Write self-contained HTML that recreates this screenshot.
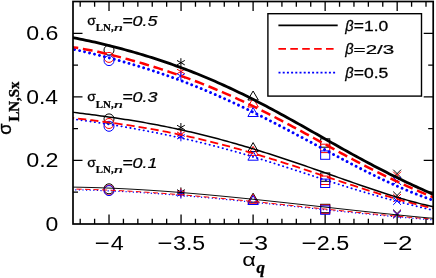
<!DOCTYPE html><html><head><meta charset="utf-8"><style>html,body{margin:0;padding:0;background:#fff}svg{display:block;will-change:transform}svg{font-family:"Liberation Sans",sans-serif}text{fill:#000}</style></head><body>
<svg width="436" height="278" viewBox="0 0 436 278">
<rect width="436" height="278" fill="#fff"/>
<defs><clipPath id="c"><rect x="73.0" y="1.5" width="360.2" height="222.5"/></clipPath></defs>
<g fill="none" stroke-width="1">
<circle cx="109.0" cy="50.1" r="5" stroke="#000"/>
<circle cx="109.0" cy="57.4" r="5" stroke="#ff0000"/>
<circle cx="109.0" cy="60.6" r="5" stroke="#0000ff"/>
<circle cx="109.0" cy="118.9" r="5" stroke="#000"/>
<circle cx="109.0" cy="123.5" r="5" stroke="#ff0000"/>
<circle cx="109.0" cy="126.3" r="5" stroke="#0000ff"/>
<circle cx="109.0" cy="188.8" r="5" stroke="#000"/>
<circle cx="109.0" cy="190.1" r="5" stroke="#ff0000"/>
<circle cx="109.0" cy="190.6" r="5" stroke="#0000ff"/>
<path d="M180.90,58.20 L180.90,67.20 M177.00,60.45 L184.80,64.95 M184.80,60.45 L177.00,64.95 " stroke="#000"/>
<path d="M180.90,67.00 L180.90,76.00 M177.00,69.25 L184.80,73.75 M184.80,69.25 L177.00,73.75 " stroke="#ff0000"/>
<path d="M180.90,71.50 L180.90,80.50 M177.00,73.75 L184.80,78.25 M184.80,73.75 L177.00,78.25 " stroke="#0000ff"/>
<path d="M180.90,123.00 L180.90,132.00 M177.00,125.25 L184.80,129.75 M184.80,125.25 L177.00,129.75 " stroke="#000"/>
<path d="M180.90,129.70 L180.90,138.70 M177.00,131.95 L184.80,136.45 M184.80,131.95 L177.00,136.45 " stroke="#ff0000"/>
<path d="M180.90,132.30 L180.90,141.30 M177.00,134.55 L184.80,139.05 M184.80,134.55 L177.00,139.05 " stroke="#0000ff"/>
<path d="M180.90,187.40 L180.90,196.40 M177.00,189.65 L184.80,194.15 M184.80,189.65 L177.00,194.15 " stroke="#000"/>
<path d="M180.90,188.50 L180.90,197.50 M177.00,190.75 L184.80,195.25 M184.80,190.75 L177.00,195.25 " stroke="#ff0000"/>
<path d="M180.90,189.60 L180.90,198.60 M177.00,191.85 L184.80,196.35 M184.80,191.85 L177.00,196.35 " stroke="#0000ff"/>
<path d="M253.1,91.0 L258.3,100.0 L247.9,100.0 Z" stroke="#000"/>
<path d="M253.1,98.0 L258.3,107.0 L247.9,107.0 Z" stroke="#ff0000"/>
<path d="M253.1,107.5 L258.3,116.5 L247.9,116.5 Z" stroke="#0000ff"/>
<path d="M253.1,142.6 L258.3,151.6 L247.9,151.6 Z" stroke="#000"/>
<path d="M253.1,146.4 L258.3,155.4 L247.9,155.4 Z" stroke="#ff0000"/>
<path d="M253.1,151.2 L258.3,160.2 L247.9,160.2 Z" stroke="#0000ff"/>
<path d="M253.1,193.2 L258.3,202.2 L247.9,202.2 Z" stroke="#000"/>
<path d="M253.1,194.3 L258.3,203.3 L247.9,203.3 Z" stroke="#ff0000"/>
<path d="M253.1,195.5 L258.3,204.5 L247.9,204.5 Z" stroke="#0000ff"/>
<rect x="320.65" y="138.8" width="9.1" height="8.4" stroke="#000"/>
<rect x="320.65" y="144.2" width="9.1" height="8.4" stroke="#ff0000"/>
<rect x="320.65" y="150.9" width="9.1" height="8.4" stroke="#0000ff"/>
<rect x="320.65" y="172.9" width="9.1" height="8.4" stroke="#000"/>
<rect x="320.65" y="176.1" width="9.1" height="8.4" stroke="#ff0000"/>
<rect x="320.65" y="179.1" width="9.1" height="8.4" stroke="#0000ff"/>
<rect x="320.65" y="204.3" width="9.1" height="8.4" stroke="#000"/>
<rect x="320.65" y="205.0" width="9.1" height="8.4" stroke="#ff0000"/>
<rect x="320.65" y="205.9" width="9.1" height="8.4" stroke="#0000ff"/>
<path d="M393.2,169.7 L401.0,177.5 M393.2,177.5 L401.0,169.7" stroke="#000"/>
<path d="M393.2,171.7 L401.0,179.5 M393.2,179.5 L401.0,171.7" stroke="#ff0000"/>
<path d="M393.2,177.1 L401.0,184.9 M393.2,184.9 L401.0,177.1" stroke="#0000ff"/>
<path d="M393.2,191.6 L401.0,199.4 M393.2,199.4 L401.0,191.6" stroke="#000"/>
<path d="M393.2,194.0 L401.0,201.8 M393.2,201.8 L401.0,194.0" stroke="#ff0000"/>
<path d="M393.2,197.1 L401.0,204.9 M393.2,204.9 L401.0,197.1" stroke="#0000ff"/>
<path d="M393.2,209.6 L401.0,217.4 M393.2,217.4 L401.0,209.6" stroke="#000"/>
<path d="M393.2,210.3 L401.0,218.1 M393.2,218.1 L401.0,210.3" stroke="#ff0000"/>
<path d="M393.2,210.6 L401.0,218.4 M393.2,218.4 L401.0,210.6" stroke="#0000ff"/>
</g>
<g clip-path="url(#c)" fill="none">
<path d="M68.00,48.05 L71.00,48.71 L74.00,49.37 L77.00,50.05 L80.00,50.73 L83.00,51.42 L86.00,52.12 L89.00,52.84 L92.00,53.56 L95.00,54.29 L98.00,55.03 L101.00,55.79 L104.00,56.55 L107.00,57.33 L110.00,58.12 L113.00,58.92 L116.00,59.73 L119.00,60.55 L122.00,61.39 L125.00,62.24 L128.00,63.10 L131.00,63.98 L134.00,64.86 L137.00,65.77 L140.00,66.68 L143.00,67.61 L146.00,68.55 L149.00,69.51 L152.00,70.49 L155.00,71.47 L158.00,72.47 L161.00,73.49 L164.00,74.52 L167.00,75.57 L170.00,76.63 L173.00,77.71 L176.00,78.81 L179.00,79.91 L182.00,81.04 L185.00,82.18 L188.00,83.34 L191.00,84.51 L194.00,85.70 L197.00,86.90 L200.00,88.12 L203.00,89.36 L206.00,90.61 L209.00,91.87 L212.00,93.15 L215.00,94.45 L218.00,95.76 L221.00,97.09 L224.00,98.43 L227.00,99.79 L230.00,101.16 L233.00,102.55 L236.00,103.94 L239.00,105.36 L242.00,106.78 L245.00,108.22 L248.00,109.68 L251.00,111.14 L254.00,112.62 L257.00,114.10 L260.00,115.60 L263.00,117.11 L266.00,118.64 L269.00,120.17 L272.00,121.71 L275.00,123.26 L278.00,124.81 L281.00,126.38 L284.00,127.95 L287.00,129.53 L290.00,131.12 L293.00,132.71 L296.00,134.31 L299.00,135.91 L302.00,137.51 L305.00,139.12 L308.00,140.73 L311.00,142.35 L314.00,143.96 L317.00,145.57 L320.00,147.19 L323.00,148.80 L326.00,150.41 L329.00,152.02 L332.00,153.63 L335.00,155.23 L338.00,156.82 L341.00,158.41 L344.00,160.00 L347.00,161.58 L350.00,163.14 L353.00,164.71 L356.00,166.26 L359.00,167.80 L362.00,169.33 L365.00,170.84 L368.00,172.35 L371.00,173.84 L374.00,175.31 L377.00,176.77 L380.00,178.22 L383.00,179.65 L386.00,181.06 L389.00,182.45 L392.00,183.82 L395.00,185.17 L398.00,186.50 L401.00,187.81 L404.00,189.10 L407.00,190.36 L410.00,191.60 L413.00,192.81 L416.00,194.00 L419.00,195.17 L422.00,196.30 L425.00,197.41 L428.00,198.50 L431.00,199.55 L434.00,200.57 L437.00,201.57" stroke="#0000ff" stroke-width="2.9" stroke-dasharray="0.01 5.09" stroke-dashoffset="3.4" stroke-linecap="round"/>
<path d="M68.00,46.56 L71.00,46.95 L74.00,47.38 L77.00,47.84 L80.00,48.33 L83.00,48.86 L86.00,49.40 L89.00,49.98 L92.00,50.58 L95.00,51.20 L98.00,51.84 L101.00,52.51 L104.00,53.19 L107.00,53.89 L110.00,54.61 L113.00,55.35 L116.00,56.10 L119.00,56.87 L122.00,57.65 L125.00,58.45 L128.00,59.26 L131.00,60.09 L134.00,60.93 L137.00,61.78 L140.00,62.65 L143.00,63.53 L146.00,64.43 L149.00,65.34 L152.00,66.26 L155.00,67.19 L158.00,68.14 L161.00,69.10 L164.00,70.08 L167.00,71.07 L170.00,72.07 L173.00,73.09 L176.00,74.13 L179.00,75.18 L182.00,76.24 L185.00,77.32 L188.00,78.41 L191.00,79.53 L194.00,80.65 L197.00,81.79 L200.00,82.95 L203.00,84.13 L206.00,85.32 L209.00,86.53 L212.00,87.75 L215.00,89.00 L218.00,90.26 L221.00,91.53 L224.00,92.83 L227.00,94.14 L230.00,95.46 L233.00,96.81 L236.00,98.17 L239.00,99.54 L242.00,100.94 L245.00,102.34 L248.00,103.77 L251.00,105.21 L254.00,106.67 L257.00,108.14 L260.00,109.62 L263.00,111.12 L266.00,112.63 L269.00,114.16 L272.00,115.70 L275.00,117.25 L278.00,118.82 L281.00,120.39 L284.00,121.97 L287.00,123.57 L290.00,125.17 L293.00,126.78 L296.00,128.40 L299.00,130.03 L302.00,131.66 L305.00,133.30 L308.00,134.94 L311.00,136.58 L314.00,138.23 L317.00,139.88 L320.00,141.53 L323.00,143.18 L326.00,144.83 L329.00,146.48 L332.00,148.13 L335.00,149.77 L338.00,151.40 L341.00,153.04 L344.00,154.66 L347.00,156.28 L350.00,157.89 L353.00,159.49 L356.00,161.08 L359.00,162.66 L362.00,164.23 L365.00,165.79 L368.00,167.34 L371.00,168.87 L374.00,170.39 L377.00,171.89 L380.00,173.38 L383.00,174.86 L386.00,176.31 L389.00,177.76 L392.00,179.18 L395.00,180.59 L398.00,181.99 L401.00,183.36 L404.00,184.72 L407.00,186.07 L410.00,187.39 L413.00,188.71 L416.00,190.01 L419.00,191.29 L422.00,192.56 L425.00,193.82 L428.00,195.07 L431.00,196.30 L434.00,197.53 L437.00,198.75" stroke="#ff0000" stroke-width="2.5" stroke-dasharray="9.8 4.78" stroke-dashoffset="-0.5"/>
<path d="M68.00,36.82 L71.00,37.34 L74.00,37.89 L77.00,38.46 L80.00,39.05 L83.00,39.65 L86.00,40.28 L89.00,40.91 L92.00,41.57 L95.00,42.24 L98.00,42.93 L101.00,43.63 L104.00,44.34 L107.00,45.07 L110.00,45.81 L113.00,46.57 L116.00,47.34 L119.00,48.13 L122.00,48.93 L125.00,49.74 L128.00,50.57 L131.00,51.41 L134.00,52.26 L137.00,53.13 L140.00,54.01 L143.00,54.91 L146.00,55.83 L149.00,56.75 L152.00,57.70 L155.00,58.65 L158.00,59.63 L161.00,60.62 L164.00,61.62 L167.00,62.64 L170.00,63.68 L173.00,64.74 L176.00,65.81 L179.00,66.90 L182.00,68.00 L185.00,69.13 L188.00,70.27 L191.00,71.43 L194.00,72.60 L197.00,73.80 L200.00,75.01 L203.00,76.24 L206.00,77.49 L209.00,78.75 L212.00,80.04 L215.00,81.34 L218.00,82.66 L221.00,84.00 L224.00,85.36 L227.00,86.73 L230.00,88.12 L233.00,89.53 L236.00,90.96 L239.00,92.40 L242.00,93.86 L245.00,95.33 L248.00,96.82 L251.00,98.33 L254.00,99.85 L257.00,101.39 L260.00,102.94 L263.00,104.51 L266.00,106.08 L269.00,107.68 L272.00,109.28 L275.00,110.89 L278.00,112.52 L281.00,114.15 L284.00,115.80 L287.00,117.46 L290.00,119.12 L293.00,120.79 L296.00,122.47 L299.00,124.15 L302.00,125.84 L305.00,127.53 L308.00,129.23 L311.00,130.93 L314.00,132.64 L317.00,134.34 L320.00,136.05 L323.00,137.75 L326.00,139.45 L329.00,141.16 L332.00,142.86 L335.00,144.55 L338.00,146.24 L341.00,147.93 L344.00,149.61 L347.00,151.28 L350.00,152.95 L353.00,154.61 L356.00,156.25 L359.00,157.89 L362.00,159.52 L365.00,161.14 L368.00,162.75 L371.00,164.34 L374.00,165.92 L377.00,167.49 L380.00,169.05 L383.00,170.59 L386.00,172.12 L389.00,173.63 L392.00,175.13 L395.00,176.62 L398.00,178.09 L401.00,179.54 L404.00,180.98 L407.00,182.41 L410.00,183.82 L413.00,185.22 L416.00,186.61 L419.00,187.98 L422.00,189.34 L425.00,190.69 L428.00,192.03 L431.00,193.36 L434.00,194.69 L437.00,196.00" stroke="#000" stroke-width="2.8"/>
<path d="M68.00,118.49 L71.00,118.85 L74.00,119.23 L77.00,119.61 L80.00,120.01 L83.00,120.42 L86.00,120.84 L89.00,121.27 L92.00,121.71 L95.00,122.16 L98.00,122.61 L101.00,123.08 L104.00,123.55 L107.00,124.02 L110.00,124.51 L113.00,125.00 L116.00,125.49 L119.00,126.00 L122.00,126.51 L125.00,127.02 L128.00,127.55 L131.00,128.07 L134.00,128.61 L137.00,129.15 L140.00,129.70 L143.00,130.26 L146.00,130.82 L149.00,131.40 L152.00,131.97 L155.00,132.56 L158.00,133.15 L161.00,133.76 L164.00,134.37 L167.00,134.99 L170.00,135.61 L173.00,136.25 L176.00,136.89 L179.00,137.55 L182.00,138.21 L185.00,138.89 L188.00,139.57 L191.00,140.26 L194.00,140.96 L197.00,141.67 L200.00,142.40 L203.00,143.13 L206.00,143.87 L209.00,144.62 L212.00,145.39 L215.00,146.16 L218.00,146.94 L221.00,147.74 L224.00,148.54 L227.00,149.36 L230.00,150.18 L233.00,151.01 L236.00,151.86 L239.00,152.71 L242.00,153.58 L245.00,154.45 L248.00,155.33 L251.00,156.22 L254.00,157.12 L257.00,158.02 L260.00,158.94 L263.00,159.86 L266.00,160.79 L269.00,161.73 L272.00,162.67 L275.00,163.62 L278.00,164.57 L281.00,165.53 L284.00,166.50 L287.00,167.47 L290.00,168.44 L293.00,169.41 L296.00,170.39 L299.00,171.37 L302.00,172.36 L305.00,173.34 L308.00,174.32 L311.00,175.31 L314.00,176.29 L317.00,177.27 L320.00,178.25 L323.00,179.23 L326.00,180.21 L329.00,181.18 L332.00,182.15 L335.00,183.11 L338.00,184.07 L341.00,185.03 L344.00,185.97 L347.00,186.91 L350.00,187.85 L353.00,188.77 L356.00,189.69 L359.00,190.60 L362.00,191.51 L365.00,192.40 L368.00,193.28 L371.00,194.16 L374.00,195.02 L377.00,195.88 L380.00,196.72 L383.00,197.56 L386.00,198.38 L389.00,199.20 L392.00,200.00 L395.00,200.80 L398.00,201.58 L401.00,202.36 L404.00,203.13 L407.00,203.89 L410.00,204.64 L413.00,205.38 L416.00,206.12 L419.00,206.85 L422.00,207.58 L425.00,208.30 L428.00,209.02 L431.00,209.74 L434.00,210.46 L437.00,211.18" stroke="#0000ff" stroke-width="1.8" stroke-dasharray="0.3 4.2" stroke-dashoffset="0" stroke-linecap="round"/>
<path d="M68.00,117.40 L71.00,117.75 L74.00,118.09 L77.00,118.44 L80.00,118.79 L83.00,119.15 L86.00,119.51 L89.00,119.87 L92.00,120.24 L95.00,120.62 L98.00,121.00 L101.00,121.38 L104.00,121.77 L107.00,122.17 L110.00,122.58 L113.00,122.99 L116.00,123.41 L119.00,123.84 L122.00,124.28 L125.00,124.72 L128.00,125.18 L131.00,125.64 L134.00,126.11 L137.00,126.59 L140.00,127.08 L143.00,127.58 L146.00,128.09 L149.00,128.62 L152.00,129.15 L155.00,129.69 L158.00,130.24 L161.00,130.80 L164.00,131.37 L167.00,131.96 L170.00,132.55 L173.00,133.16 L176.00,133.77 L179.00,134.40 L182.00,135.04 L185.00,135.69 L188.00,136.35 L191.00,137.02 L194.00,137.70 L197.00,138.40 L200.00,139.10 L203.00,139.82 L206.00,140.54 L209.00,141.28 L212.00,142.03 L215.00,142.79 L218.00,143.56 L221.00,144.34 L224.00,145.13 L227.00,145.93 L230.00,146.74 L233.00,147.56 L236.00,148.39 L239.00,149.23 L242.00,150.08 L245.00,150.94 L248.00,151.80 L251.00,152.68 L254.00,153.56 L257.00,154.46 L260.00,155.36 L263.00,156.27 L266.00,157.18 L269.00,158.11 L272.00,159.04 L275.00,159.97 L278.00,160.91 L281.00,161.86 L284.00,162.82 L287.00,163.78 L290.00,164.74 L293.00,165.71 L296.00,166.69 L299.00,167.67 L302.00,168.65 L305.00,169.63 L308.00,170.62 L311.00,171.61 L314.00,172.60 L317.00,173.60 L320.00,174.59 L323.00,175.59 L326.00,176.58 L329.00,177.58 L332.00,178.57 L335.00,179.57 L338.00,180.56 L341.00,181.55 L344.00,182.54 L347.00,183.52 L350.00,184.51 L353.00,185.48 L356.00,186.46 L359.00,187.43 L362.00,188.39 L365.00,189.35 L368.00,190.30 L371.00,191.24 L374.00,192.18 L377.00,193.11 L380.00,194.03 L383.00,194.94 L386.00,195.84 L389.00,196.73 L392.00,197.61 L395.00,198.48 L398.00,199.34 L401.00,200.18 L404.00,201.01 L407.00,201.83 L410.00,202.64 L413.00,203.43 L416.00,204.20 L419.00,204.96 L422.00,205.70 L425.00,206.42 L428.00,207.13 L431.00,207.82 L434.00,208.49 L437.00,209.14" stroke="#ff0000" stroke-width="1.8" stroke-dasharray="8.2 4.0" stroke-dashoffset="2"/>
<path d="M68.00,111.61 L71.00,112.00 L74.00,112.38 L77.00,112.77 L80.00,113.15 L83.00,113.53 L86.00,113.92 L89.00,114.31 L92.00,114.70 L95.00,115.10 L98.00,115.50 L101.00,115.91 L104.00,116.32 L107.00,116.73 L110.00,117.16 L113.00,117.59 L116.00,118.03 L119.00,118.47 L122.00,118.93 L125.00,119.39 L128.00,119.86 L131.00,120.34 L134.00,120.83 L137.00,121.32 L140.00,121.83 L143.00,122.35 L146.00,122.88 L149.00,123.42 L152.00,123.97 L155.00,124.53 L158.00,125.10 L161.00,125.68 L164.00,126.27 L167.00,126.87 L170.00,127.49 L173.00,128.11 L176.00,128.75 L179.00,129.40 L182.00,130.06 L185.00,130.73 L188.00,131.41 L191.00,132.10 L194.00,132.80 L197.00,133.52 L200.00,134.25 L203.00,134.98 L206.00,135.73 L209.00,136.49 L212.00,137.26 L215.00,138.04 L218.00,138.84 L221.00,139.64 L224.00,140.45 L227.00,141.28 L230.00,142.11 L233.00,142.96 L236.00,143.81 L239.00,144.67 L242.00,145.55 L245.00,146.43 L248.00,147.33 L251.00,148.23 L254.00,149.14 L257.00,150.06 L260.00,150.99 L263.00,151.93 L266.00,152.87 L269.00,153.83 L272.00,154.79 L275.00,155.76 L278.00,156.73 L281.00,157.72 L284.00,158.71 L287.00,159.71 L290.00,160.71 L293.00,161.72 L296.00,162.73 L299.00,163.76 L302.00,164.78 L305.00,165.81 L308.00,166.85 L311.00,167.88 L314.00,168.93 L317.00,169.97 L320.00,171.02 L323.00,172.07 L326.00,173.12 L329.00,174.18 L332.00,175.23 L335.00,176.29 L338.00,177.34 L341.00,178.40 L344.00,179.45 L347.00,180.50 L350.00,181.55 L353.00,182.60 L356.00,183.65 L359.00,184.69 L362.00,185.72 L365.00,186.75 L368.00,187.77 L371.00,188.79 L374.00,189.80 L377.00,190.80 L380.00,191.79 L383.00,192.77 L386.00,193.74 L389.00,194.70 L392.00,195.64 L395.00,196.57 L398.00,197.48 L401.00,198.38 L404.00,199.26 L407.00,200.13 L410.00,200.97 L413.00,201.79 L416.00,202.59 L419.00,203.37 L422.00,204.12 L425.00,204.84 L428.00,205.54 L431.00,206.21 L434.00,206.84 L437.00,207.45" stroke="#000" stroke-width="1.5"/>
<path d="M68.00,189.68 L71.00,189.72 L74.00,189.77 L77.00,189.83 L80.00,189.90 L83.00,189.97 L86.00,190.05 L89.00,190.13 L92.00,190.23 L95.00,190.32 L98.00,190.43 L101.00,190.54 L104.00,190.66 L107.00,190.78 L110.00,190.91 L113.00,191.04 L116.00,191.18 L119.00,191.33 L122.00,191.48 L125.00,191.64 L128.00,191.80 L131.00,191.97 L134.00,192.14 L137.00,192.32 L140.00,192.51 L143.00,192.70 L146.00,192.89 L149.00,193.09 L152.00,193.29 L155.00,193.50 L158.00,193.71 L161.00,193.92 L164.00,194.14 L167.00,194.37 L170.00,194.60 L173.00,194.83 L176.00,195.07 L179.00,195.31 L182.00,195.55 L185.00,195.80 L188.00,196.05 L191.00,196.30 L194.00,196.56 L197.00,196.82 L200.00,197.09 L203.00,197.36 L206.00,197.63 L209.00,197.90 L212.00,198.18 L215.00,198.46 L218.00,198.74 L221.00,199.02 L224.00,199.31 L227.00,199.60 L230.00,199.89 L233.00,200.18 L236.00,200.48 L239.00,200.77 L242.00,201.07 L245.00,201.37 L248.00,201.68 L251.00,201.98 L254.00,202.29 L257.00,202.60 L260.00,202.90 L263.00,203.21 L266.00,203.52 L269.00,203.84 L272.00,204.15 L275.00,204.46 L278.00,204.78 L281.00,205.09 L284.00,205.41 L287.00,205.73 L290.00,206.04 L293.00,206.36 L296.00,206.68 L299.00,206.99 L302.00,207.31 L305.00,207.63 L308.00,207.95 L311.00,208.26 L314.00,208.58 L317.00,208.90 L320.00,209.21 L323.00,209.53 L326.00,209.84 L329.00,210.16 L332.00,210.47 L335.00,210.78 L338.00,211.09 L341.00,211.40 L344.00,211.71 L347.00,212.02 L350.00,212.32 L353.00,212.63 L356.00,212.93 L359.00,213.23 L362.00,213.53 L365.00,213.82 L368.00,214.12 L371.00,214.41 L374.00,214.70 L377.00,214.99 L380.00,215.28 L383.00,215.56 L386.00,215.84 L389.00,216.12 L392.00,216.40 L395.00,216.67 L398.00,216.94 L401.00,217.21 L404.00,217.47 L407.00,217.73 L410.00,217.99 L413.00,218.24 L416.00,218.49 L419.00,218.74 L422.00,218.98 L425.00,219.22 L428.00,219.46 L431.00,219.69 L434.00,219.91 L437.00,220.14" stroke="#0000ff" stroke-width="1.2" stroke-dasharray="1.2 2.4" stroke-dashoffset="0"/>
<path d="M68.00,188.98 L71.00,189.02 L74.00,189.07 L77.00,189.13 L80.00,189.20 L83.00,189.27 L86.00,189.35 L89.00,189.43 L92.00,189.53 L95.00,189.62 L98.00,189.73 L101.00,189.84 L104.00,189.96 L107.00,190.08 L110.00,190.21 L113.00,190.34 L116.00,190.48 L119.00,190.63 L122.00,190.78 L125.00,190.94 L128.00,191.10 L131.00,191.27 L134.00,191.44 L137.00,191.62 L140.00,191.81 L143.00,192.00 L146.00,192.19 L149.00,192.39 L152.00,192.59 L155.00,192.80 L158.00,193.01 L161.00,193.22 L164.00,193.44 L167.00,193.67 L170.00,193.90 L173.00,194.13 L176.00,194.37 L179.00,194.61 L182.00,194.85 L185.00,195.10 L188.00,195.35 L191.00,195.60 L194.00,195.86 L197.00,196.12 L200.00,196.39 L203.00,196.66 L206.00,196.93 L209.00,197.20 L212.00,197.48 L215.00,197.76 L218.00,198.04 L221.00,198.32 L224.00,198.61 L227.00,198.90 L230.00,199.19 L233.00,199.48 L236.00,199.78 L239.00,200.07 L242.00,200.37 L245.00,200.67 L248.00,200.98 L251.00,201.28 L254.00,201.59 L257.00,201.90 L260.00,202.20 L263.00,202.51 L266.00,202.82 L269.00,203.14 L272.00,203.45 L275.00,203.76 L278.00,204.08 L281.00,204.39 L284.00,204.71 L287.00,205.03 L290.00,205.34 L293.00,205.66 L296.00,205.98 L299.00,206.29 L302.00,206.61 L305.00,206.93 L308.00,207.25 L311.00,207.56 L314.00,207.88 L317.00,208.20 L320.00,208.51 L323.00,208.83 L326.00,209.14 L329.00,209.46 L332.00,209.77 L335.00,210.08 L338.00,210.39 L341.00,210.70 L344.00,211.01 L347.00,211.32 L350.00,211.62 L353.00,211.93 L356.00,212.23 L359.00,212.53 L362.00,212.83 L365.00,213.12 L368.00,213.42 L371.00,213.71 L374.00,214.00 L377.00,214.29 L380.00,214.58 L383.00,214.86 L386.00,215.14 L389.00,215.42 L392.00,215.70 L395.00,215.97 L398.00,216.24 L401.00,216.51 L404.00,216.77 L407.00,217.03 L410.00,217.29 L413.00,217.54 L416.00,217.79 L419.00,218.04 L422.00,218.28 L425.00,218.52 L428.00,218.76 L431.00,218.99 L434.00,219.21 L437.00,219.44" stroke="#ff0000" stroke-width="1.0" stroke-dasharray="5.2 3.3" stroke-dashoffset="0"/>
<path d="M68.00,187.06 L71.00,187.09 L74.00,187.13 L77.00,187.18 L80.00,187.23 L83.00,187.30 L86.00,187.36 L89.00,187.44 L92.00,187.52 L95.00,187.61 L98.00,187.70 L101.00,187.80 L104.00,187.91 L107.00,188.02 L110.00,188.14 L113.00,188.26 L116.00,188.39 L119.00,188.53 L122.00,188.67 L125.00,188.82 L128.00,188.97 L131.00,189.13 L134.00,189.30 L137.00,189.47 L140.00,189.64 L143.00,189.82 L146.00,190.01 L149.00,190.20 L152.00,190.40 L155.00,190.60 L158.00,190.80 L161.00,191.01 L164.00,191.23 L167.00,191.45 L170.00,191.67 L173.00,191.90 L176.00,192.13 L179.00,192.36 L182.00,192.60 L185.00,192.85 L188.00,193.10 L191.00,193.35 L194.00,193.60 L197.00,193.86 L200.00,194.13 L203.00,194.39 L206.00,194.66 L209.00,194.93 L212.00,195.21 L215.00,195.49 L218.00,195.77 L221.00,196.06 L224.00,196.34 L227.00,196.63 L230.00,196.93 L233.00,197.22 L236.00,197.52 L239.00,197.82 L242.00,198.13 L245.00,198.43 L248.00,198.74 L251.00,199.05 L254.00,199.36 L257.00,199.67 L260.00,199.99 L263.00,200.30 L266.00,200.62 L269.00,200.94 L272.00,201.27 L275.00,201.59 L278.00,201.91 L281.00,202.24 L284.00,202.56 L287.00,202.89 L290.00,203.22 L293.00,203.55 L296.00,203.88 L299.00,204.21 L302.00,204.54 L305.00,204.88 L308.00,205.21 L311.00,205.54 L314.00,205.87 L317.00,206.21 L320.00,206.54 L323.00,206.87 L326.00,207.21 L329.00,207.54 L332.00,207.87 L335.00,208.20 L338.00,208.54 L341.00,208.87 L344.00,209.20 L347.00,209.53 L350.00,209.86 L353.00,210.19 L356.00,210.52 L359.00,210.84 L362.00,211.17 L365.00,211.49 L368.00,211.81 L371.00,212.14 L374.00,212.46 L377.00,212.77 L380.00,213.09 L383.00,213.41 L386.00,213.72 L389.00,214.03 L392.00,214.34 L395.00,214.65 L398.00,214.95 L401.00,215.26 L404.00,215.56 L407.00,215.85 L410.00,216.15 L413.00,216.44 L416.00,216.73 L419.00,217.02 L422.00,217.31 L425.00,217.59 L428.00,217.87 L431.00,218.14 L434.00,218.41 L437.00,218.68" stroke="#000" stroke-width="0.95"/>
</g>
<rect x="73.0" y="1.5" width="360.2" height="222.5" fill="none" stroke="#000" stroke-width="1.7"/>
<path d="M80.20,1.50 v5.2 M80.20,224.00 v-5.2 M94.61,1.50 v5.2 M94.61,224.00 v-5.2 M109.02,1.50 v9.5 M109.02,224.00 v-9.5 M123.43,1.50 v5.2 M123.43,224.00 v-5.2 M137.84,1.50 v5.2 M137.84,224.00 v-5.2 M152.24,1.50 v5.2 M152.24,224.00 v-5.2 M166.65,1.50 v5.2 M166.65,224.00 v-5.2 M181.06,1.50 v9.5 M181.06,224.00 v-9.5 M195.47,1.50 v5.2 M195.47,224.00 v-5.2 M209.88,1.50 v5.2 M209.88,224.00 v-5.2 M224.28,1.50 v5.2 M224.28,224.00 v-5.2 M238.69,1.50 v5.2 M238.69,224.00 v-5.2 M253.10,1.50 v9.5 M253.10,224.00 v-9.5 M267.51,1.50 v5.2 M267.51,224.00 v-5.2 M281.92,1.50 v5.2 M281.92,224.00 v-5.2 M296.32,1.50 v5.2 M296.32,224.00 v-5.2 M310.73,1.50 v5.2 M310.73,224.00 v-5.2 M325.14,1.50 v9.5 M325.14,224.00 v-9.5 M339.55,1.50 v5.2 M339.55,224.00 v-5.2 M353.96,1.50 v5.2 M353.96,224.00 v-5.2 M368.36,1.50 v5.2 M368.36,224.00 v-5.2 M382.77,1.50 v5.2 M382.77,224.00 v-5.2 M397.18,1.50 v9.5 M397.18,224.00 v-9.5 M411.59,1.50 v5.2 M411.59,224.00 v-5.2 M426.00,1.50 v5.2 M426.00,224.00 v-5.2 M440.40,1.50 v5.2 M440.40,224.00 v-5.2 M73.00,192.21 h5.0 M433.20,192.21 h-5.0 M73.00,160.43 h9.5 M433.20,160.43 h-9.5 M73.00,128.64 h5.0 M433.20,128.64 h-5.0 M73.00,96.86 h9.5 M433.20,96.86 h-9.5 M73.00,65.07 h5.0 M433.20,65.07 h-5.0 M73.00,33.29 h9.5 M433.20,33.29 h-9.5 " stroke="#000" stroke-width="1.3" fill="none"/>
<text transform="translate(45.48,230.90) scale(23.037,20.353)" style='font-family:"Liberation Sans",sans-serif;font-weight:normal;font-style:normal;font-size:1px' >0</text>
<text transform="translate(26.17,167.33) scale(23.308,20.353)" style='font-family:"Liberation Sans",sans-serif;font-weight:normal;font-style:normal;font-size:1px' >0.2</text>
<text transform="translate(26.18,103.75) scale(22.911,20.353)" style='font-family:"Liberation Sans",sans-serif;font-weight:normal;font-style:normal;font-size:1px' >0.4</text>
<text transform="translate(26.17,40.18) scale(23.174,20.353)" style='font-family:"Liberation Sans",sans-serif;font-weight:normal;font-style:normal;font-size:1px' >0.6</text>
<rect x="95.87" y="242.5" width="12.6" height="1.5" fill="#000"/>
<text transform="translate(110.64,250.30) scale(23.366,20.800)" style='font-family:"Liberation Sans",sans-serif;font-weight:normal;font-style:normal;font-size:1px' >4</text>
<rect x="158.61" y="242.5" width="12.6" height="1.5" fill="#000"/>
<text transform="translate(173.04,250.10) scale(23.162,20.212)" style='font-family:"Liberation Sans",sans-serif;font-weight:normal;font-style:normal;font-size:1px' >3.5</text>
<rect x="239.95" y="242.5" width="12.6" height="1.5" fill="#000"/>
<text transform="translate(254.32,250.10) scale(24.842,20.212)" style='font-family:"Liberation Sans",sans-serif;font-weight:normal;font-style:normal;font-size:1px' >3</text>
<rect x="302.69" y="242.5" width="12.6" height="1.5" fill="#000"/>
<text transform="translate(316.82,250.10) scale(23.385,20.212)" style='font-family:"Liberation Sans",sans-serif;font-weight:normal;font-style:normal;font-size:1px' >2.5</text>
<rect x="384.03" y="242.5" width="12.6" height="1.5" fill="#000"/>
<text transform="translate(398.03,250.30) scale(25.934,20.502)" style='font-family:"Liberation Sans",sans-serif;font-weight:normal;font-style:normal;font-size:1px' >2</text>
<text transform="translate(242.30,266.41) scale(23.645,18.630)" style='font-family:"Liberation Sans",sans-serif;font-weight:normal;font-style:normal;font-size:1px' >α</text>
<text transform="translate(256.39,273.18) scale(16.865,16.117)" style='font-family:"Liberation Serif",sans-serif;font-weight:bold;font-style:italic;font-size:1px'  stroke="#000" stroke-width="0.0182" stroke-linejoin="round">q</text>
<g transform="rotate(-90)">
<text transform="translate(-134.68,11.13) scale(18.393,17.488)" style='font-family:"Liberation Sans",sans-serif;font-weight:normal;font-style:normal;font-size:1px'  stroke="#000" stroke-width="0.0195" stroke-linejoin="round">σ</text>
<text transform="translate(-121.56,18.69) scale(14.892,14.924)" style='font-family:"Liberation Serif",sans-serif;font-weight:bold;font-style:normal;font-size:1px'  stroke="#000" stroke-width="0.0235" stroke-linejoin="round">LN,Sx</text>
</g>
<text transform="translate(87.21,24.88) scale(13.929,11.907)" style='font-family:"Liberation Sans",sans-serif;font-weight:normal;font-style:normal;font-size:1px'  stroke="#000" stroke-width="0.0233" stroke-linejoin="round">σ</text>
<text transform="translate(95.81,31.13) scale(10.915,10.123)" style='font-family:"Liberation Serif",sans-serif;font-weight:bold;font-style:normal;font-size:1px'  stroke="#000" stroke-width="0.0190" stroke-linejoin="round">LN,</text>
<text transform="translate(113.65,31.10) scale(18.462,11.064)" style='font-family:"Liberation Serif",sans-serif;font-weight:normal;font-style:italic;font-size:1px'  stroke="#000" stroke-width="0.0175" stroke-linejoin="round">n</text>
<text transform="translate(122.18,25.56) scale(17.882,13.993)" style='font-family:"Liberation Sans",sans-serif;font-weight:normal;font-style:italic;font-size:1px'  stroke="#000" stroke-width="0.0139" stroke-linejoin="round">=0.5</text>
<text transform="translate(87.21,101.38) scale(13.929,11.907)" style='font-family:"Liberation Sans",sans-serif;font-weight:normal;font-style:normal;font-size:1px'  stroke="#000" stroke-width="0.0233" stroke-linejoin="round">σ</text>
<text transform="translate(95.81,107.63) scale(10.915,10.123)" style='font-family:"Liberation Serif",sans-serif;font-weight:bold;font-style:normal;font-size:1px'  stroke="#000" stroke-width="0.0190" stroke-linejoin="round">LN,</text>
<text transform="translate(113.65,107.60) scale(18.462,11.064)" style='font-family:"Liberation Serif",sans-serif;font-weight:normal;font-style:italic;font-size:1px'  stroke="#000" stroke-width="0.0175" stroke-linejoin="round">n</text>
<text transform="translate(122.18,102.06) scale(17.882,13.993)" style='font-family:"Liberation Sans",sans-serif;font-weight:normal;font-style:italic;font-size:1px'  stroke="#000" stroke-width="0.0139" stroke-linejoin="round">=0.3</text>
<text transform="translate(87.21,166.98) scale(13.929,11.907)" style='font-family:"Liberation Sans",sans-serif;font-weight:normal;font-style:normal;font-size:1px'  stroke="#000" stroke-width="0.0233" stroke-linejoin="round">σ</text>
<text transform="translate(95.81,173.23) scale(10.915,10.123)" style='font-family:"Liberation Serif",sans-serif;font-weight:bold;font-style:normal;font-size:1px'  stroke="#000" stroke-width="0.0190" stroke-linejoin="round">LN,</text>
<text transform="translate(113.65,173.20) scale(18.462,11.064)" style='font-family:"Liberation Serif",sans-serif;font-weight:normal;font-style:italic;font-size:1px'  stroke="#000" stroke-width="0.0175" stroke-linejoin="round">n</text>
<text transform="translate(122.18,167.66) scale(17.882,13.993)" style='font-family:"Liberation Sans",sans-serif;font-weight:normal;font-style:italic;font-size:1px'  stroke="#000" stroke-width="0.0139" stroke-linejoin="round">=0.1</text>
<rect x="267.9" y="13.7" width="153.6" height="82.4" fill="#fff" stroke="#000" stroke-width="1.4"/>
<path d="M278.4,25.4 H337.7" stroke="#000" stroke-width="1.6"/>
<path d="M278.4,48.9 H334" stroke="#ff0000" stroke-width="1.8" stroke-dasharray="7.6 4.3"/>
<path d="M278.5,72.7 H335.2" stroke="#0000ff" stroke-width="1.8" stroke-dasharray="2 2.2"/>
<text transform="translate(345.26,30.63) scale(14.498,14.799)" style='font-family:"Liberation Sans",sans-serif;font-weight:normal;font-style:italic;font-size:1px'  stroke="#000" stroke-width="0.0205" stroke-linejoin="round">β</text>
<text transform="translate(353.77,30.56) scale(17.483,14.134)" style='font-family:"Liberation Sans",sans-serif;font-weight:normal;font-style:normal;font-size:1px'  stroke="#000" stroke-width="0.0191" stroke-linejoin="round">=1.0</text>
<text transform="translate(345.26,54.03) scale(14.498,14.799)" style='font-family:"Liberation Sans",sans-serif;font-weight:normal;font-style:italic;font-size:1px'  stroke="#000" stroke-width="0.0205" stroke-linejoin="round">β</text>
<text transform="translate(353.62,53.96) scale(20.611,13.605)" style='font-family:"Liberation Sans",sans-serif;font-weight:normal;font-style:normal;font-size:1px'  stroke="#000" stroke-width="0.0179" stroke-linejoin="round">=2/3</text>
<text transform="translate(345.26,77.93) scale(14.498,14.799)" style='font-family:"Liberation Sans",sans-serif;font-weight:normal;font-style:italic;font-size:1px'  stroke="#000" stroke-width="0.0205" stroke-linejoin="round">β</text>
<text transform="translate(353.77,77.86) scale(17.507,14.134)" style='font-family:"Liberation Sans",sans-serif;font-weight:normal;font-style:normal;font-size:1px'  stroke="#000" stroke-width="0.0191" stroke-linejoin="round">=0.5</text>
</svg></body></html>
